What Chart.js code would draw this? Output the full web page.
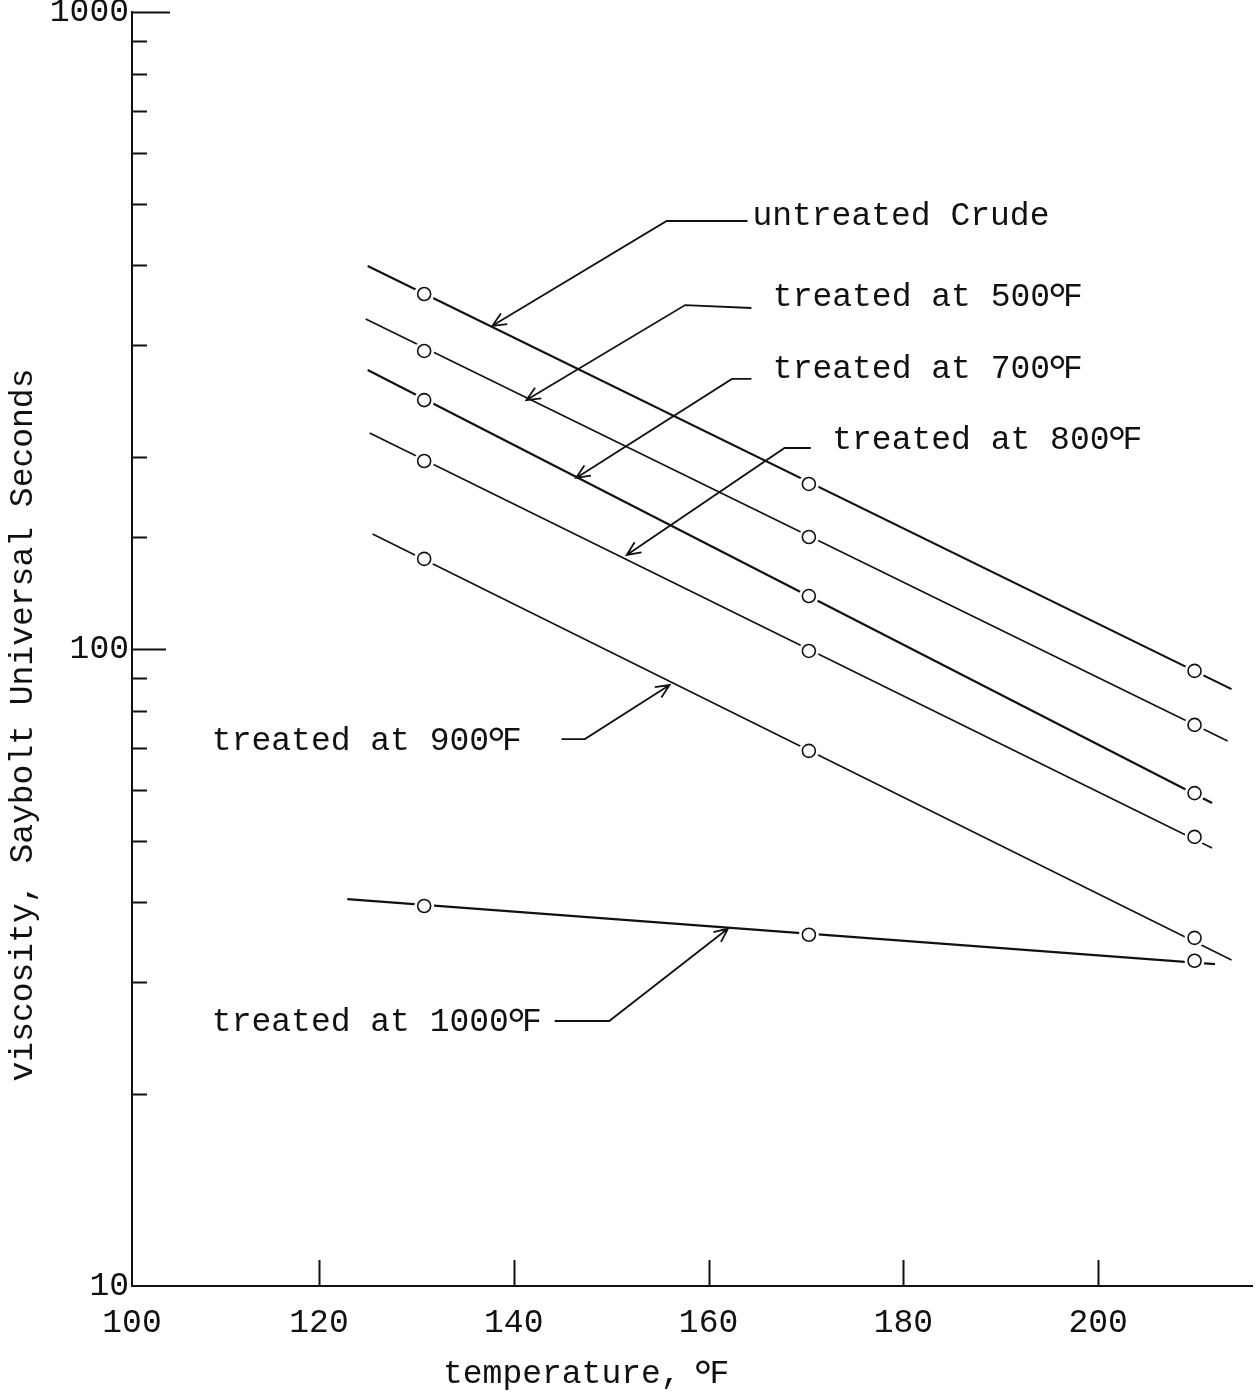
<!doctype html>
<html lang="en">
<head>
<meta charset="utf-8">
<title>Viscosity vs temperature</title>
<script src="https://cdn.jsdelivr.net/npm/chart.js@4.4.1/dist/chart.umd.min.js"></script>
<style>
  html, body { margin: 0; padding: 0; background: #fff; overflow: hidden; }
  .wrap { position: relative; width: 1256px; height: 1397px; overflow: hidden; }
  canvas { display: block; }
</style>
</head>
<body>
<div class="wrap"><canvas id="chart"></canvas></div>
<script>
// temperature (°F) of the three measured points, shared by every curve
const X_POINTS = [130.8, 170.3, 209.9];

// viscosity, SUS
const UNTREATED = [360.8, 181.6, 92.4];
const T500 = [293.7, 149.9, 76.0];
const T700 = [245.9, 121.1, 59.4];
const T800 = [197.3, 99.3, 50.7];
const T900 = [138.5, 69.2, 35.2];
const T1000 = [39.5, 35.6, 32.4];

// fitted straight lines, start / end of each drawn segment
const FIT_X_START = [125.0, 124.8, 125.0, 125.2, 125.5, 122.9];
const FIT_Y_START = [399.3, 329.7, 274.2, 218.3, 151.5, 40.5];
const FIT_X_END = [213.7, 213.3, 211.7, 211.7, 213.7, 212.0];
const FIT_Y_END = [86.5, 71.7, 57.3, 48.7, 32.5, 32.0];
const FIT_WIDTH = [2.2, 1.6, 2.2, 1.6, 1.6, 2.2];

const SERIES = [UNTREATED, T500, T700, T800, T900, T1000];

const X_TICKS = [100, 120, 140, 160, 180, 200];
const Y_LABELED = [10, 100, 1000];

// callouts: text, where it starts (data units), leader polyline ending in an arrow
const LABEL_TEXT = ['untreated Crude', 'treated at 500', 'treated at 700', 'treated at 800', 'treated at 900', 'treated at 1000'];
const LABEL_DEG = [false, true, true, true, true, true];
const LABEL_X = [164.5, 166.6, 166.6, 172.7, 109.0, 109.0];
const LABEL_Y = [463, 345.6, 266.4, 206.1, 69.4, 25.1];
const LEADERS = [
  [[164.0, 469.8], [155.7, 469.8], [137.8, 321.6]],
  [[164.4, 343.0], [157.6, 346.7], [141.3, 245.9]],
  [[164.4, 265.5], [162.4, 265.5], [146.4, 185.6]],
  [[170.5, 206.8], [167.8, 206.8], [151.6, 140.5]],
  [[144.9, 72.2], [147.3, 72.2], [156.0, 87.8]],
  [[144.2, 26.06], [149.8, 26.06], [162.0, 36.4]],
];

const INK = '#111';
const FAMILY = '"Liberation Mono", "DejaVu Sans Mono", monospace';
const FONT = '33px ' + FAMILY;

const datasets = [];
SERIES.forEach((vals, i) => {
  datasets.push({
    data: [{ x: FIT_X_START[i], y: FIT_Y_START[i] }, { x: FIT_X_END[i], y: FIT_Y_END[i] }],
    showLine: true,
    borderColor: INK,
    borderWidth: FIT_WIDTH[i],
    pointRadius: 0,
    order: 3,
  });
  const pts = X_POINTS.map((x, k) => ({ x, y: vals[k] }));
  // white halo gives the little break in the line round each circle
  datasets.push({
    data: pts,
    pointRadius: 10,
    pointBackgroundColor: '#fff',
    pointBorderWidth: 0,
    order: 2,
  });
  datasets.push({
    data: pts,
    pointRadius: 6.5,
    pointBackgroundColor: '#fff',
    pointBorderColor: INK,
    pointBorderWidth: 1.6,
    order: 1,
  });
});

// typed-style raised degree mark: ring of ~14px whose top sits at cap height
function drawDegText(ctx, text, px, py, degOff, fOff) {
  ctx.font = FONT;
  ctx.textAlign = 'left';
  ctx.textBaseline = 'alphabetic';
  ctx.fillText(text, px, py);
  const w = ctx.measureText(text).width;

  ctx.font = '100px ' + FAMILY;
  let m = ctx.measureText('°');
  const size = Math.round(100 * 14 / (m.actualBoundingBoxRight + m.actualBoundingBoxLeft));
  ctx.font = size + 'px ' + FAMILY;
  m = ctx.measureText('°');
  ctx.fillText('°', px + w + degOff + m.actualBoundingBoxLeft, py - 23 + m.actualBoundingBoxAscent);

  ctx.font = FONT;
  ctx.fillText('F', px + w + fOff, py);
}

function arrow(ctx, pts) {
  ctx.beginPath();
  ctx.moveTo(pts[0][0], pts[0][1]);
  for (let i = 1; i < pts.length; i++) ctx.lineTo(pts[i][0], pts[i][1]);
  const [tx, ty] = pts[pts.length - 1];
  const [sx, sy] = pts[pts.length - 2];
  const a = Math.atan2(ty - sy, tx - sx);
  const len = 15, spread = 0.42;
  ctx.moveTo(tx - len * Math.cos(a - spread), ty - len * Math.sin(a - spread));
  ctx.lineTo(tx, ty);
  ctx.lineTo(tx - len * Math.cos(a + spread), ty - len * Math.sin(a + spread));
  ctx.stroke();
}

const overlay = {
  id: 'overlay',
  afterDatasetsDraw(chart) {
    const { ctx, chartArea: area, scales: { x, y } } = chart;
    ctx.save();
    ctx.strokeStyle = INK;
    ctx.fillStyle = INK;
    ctx.lineWidth = 2;

    // tick marks sit inside the frame
    ctx.beginPath();
    for (const t of y.ticks) {
      if (t.value <= y.min) continue;
      const py = Math.round(y.getPixelForValue(t.value)) + 0.5;
      const lg = Math.log10(t.value);
      const major = Math.abs(lg - Math.round(lg)) < 1e-9;
      const len = t.value >= y.max ? 38 : major ? 34 : 15;
      ctx.moveTo(area.left, py);
      ctx.lineTo(area.left + len, py);
    }
    for (const t of x.ticks) {
      if (t.value <= x.min) continue;
      const px = Math.round(x.getPixelForValue(t.value)) + 0.5;
      ctx.moveTo(px, area.bottom);
      ctx.lineTo(px, area.bottom - 26);
    }
    ctx.stroke();

    // callouts
    ctx.lineWidth = 1.8;
    LEADERS.forEach((line) => {
      arrow(ctx, line.map(([vx, vy]) => [x.getPixelForValue(vx), y.getPixelForValue(vy)]));
    });
    LABEL_TEXT.forEach((txt, i) => {
      const px = x.getPixelForValue(LABEL_X[i]);
      const py = y.getPixelForValue(LABEL_Y[i]);
      if (LABEL_DEG[i]) {
        drawDegText(ctx, txt, px, py, 0, 13);
      } else {
        ctx.font = FONT;
        ctx.textAlign = 'left';
        ctx.textBaseline = 'alphabetic';
        ctx.fillText(txt, px, py);
      }
    });

    // axis titles
    drawDegText(ctx, 'temperature, ', area.left + 311, area.bottom + 97, -5, 9);
    ctx.save();
    ctx.translate(32, (area.top + area.bottom) / 2 + 76);
    ctx.rotate(-Math.PI / 2);
    ctx.font = FONT;
    ctx.textAlign = 'center';
    ctx.textBaseline = 'alphabetic';
    ctx.fillText('viscosity, Saybolt Universal Seconds', 0, 0);
    ctx.restore();

    ctx.restore();
  },
};

new Chart(document.getElementById('chart'), {
  type: 'scatter',
  data: { datasets },
  plugins: [overlay],
  options: {
    responsive: true,
    maintainAspectRatio: false,
    animation: false,
    events: [],
    layout: { autoPadding: false, padding: { top: 12, right: 4, left: 0, bottom: 0 } },
    plugins: { legend: { display: false }, tooltip: { enabled: false } },
    scales: {
      x: {
        type: 'linear',
        min: 100.8,
        max: 215.8,
        grid: { display: false, drawTicks: false },
        border: { display: true, color: INK, width: 2 },
        afterBuildTicks: (scale) => {
          scale.ticks = X_TICKS.map((v) => ({ value: Math.max(v, scale.min) }));
        },
        ticks: {
          autoSkip: false,
          maxRotation: 0,
          padding: 17,
          color: INK,
          font: { family: FAMILY, size: 33 },
          callback: (value, index) => String(X_TICKS[index]),
        },
        afterFit: (scale) => {
          scale.height = 111;
          scale.paddingLeft = 0;
          scale.paddingRight = 0;
        },
      },
      y: {
        type: 'logarithmic',
        min: 10,
        max: 1000,
        grid: { display: false, drawTicks: false },
        border: { display: true, color: INK, width: 2 },
        ticks: {
          autoSkip: false,
          padding: 3,
          color: INK,
          font: { family: FAMILY, size: 33 },
          callback: (value) => (Y_LABELED.includes(value) ? String(value) : ''),
        },
        afterFit: (scale) => {
          scale.width = 132;
          scale.paddingTop = 0;
          scale.paddingBottom = 0;
        },
      },
    },
  },
});
</script>
</body>
</html>
